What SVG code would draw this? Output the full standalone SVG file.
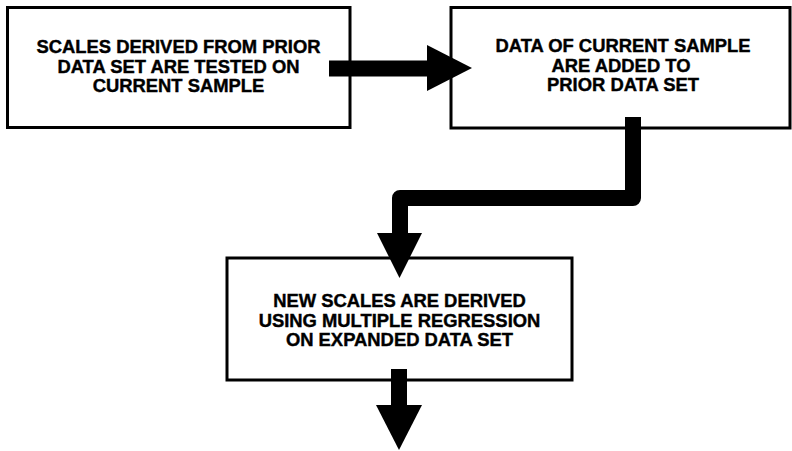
<svg xmlns="http://www.w3.org/2000/svg" width="792" height="451" viewBox="0 0 792 451">
  <style>
    .box { fill: #ffffff; stroke: #000000; stroke-width: 3; }
    .label { font-family: "Liberation Sans", Arial, Helvetica, sans-serif; font-weight: bold; font-size: 18.4px; fill: #000000; stroke: #000000; stroke-width: 0.4; text-anchor: middle; }
    .shaft { fill: none; stroke: #000000; stroke-width: 16; stroke-linejoin: round; stroke-linecap: butt; }
    .head { fill: #000000; stroke: none; }
  </style>
  <rect width="792" height="451" fill="#ffffff"/>

  <g id="node-tested">
    <rect class="box" x="7.5" y="7.5" width="342.5" height="120"/>
    <text class="label" x="178.5" y="53">SCALES DERIVED FROM PRIOR</text>
    <text class="label" x="178.5" y="73">DATA SET ARE TESTED ON</text>
    <text class="label" x="178.5" y="92">CURRENT SAMPLE</text>
  </g>

  <g id="node-added">
    <rect class="box" x="451" y="7.5" width="339" height="120.5"/>
    <text class="label" x="623" y="52">DATA OF CURRENT SAMPLE</text>
    <text class="label" x="621" y="72">ARE ADDED TO</text>
    <text class="label" x="623" y="91">PRIOR DATA SET</text>
  </g>

  <g id="node-derived">
    <rect class="box" x="227" y="258" width="345" height="122"/>
    <text class="label" x="399.5" y="307">NEW SCALES ARE DERIVED</text>
    <text class="label" x="399.5" y="327">USING MULTIPLE REGRESSION</text>
    <text class="label" x="399.5" y="346">ON EXPANDED DATA SET</text>
  </g>

  <g id="connectors">
    <!-- tested -> added -->
    <path class="shaft" d="M329,68.5 H430"/>
    <polygon class="head" points="427,45 472,68 427,91"/>
    <!-- added -> derived -->
    <path class="shaft" d="M633,117 V198 H400 V236"/>
    <polygon class="head" points="377,233 422,233 399.5,278"/>
    <!-- derived -> onward -->
    <path class="shaft" d="M399,369 V408"/>
    <polygon class="head" points="376,405 422,405 399,450"/>
  </g>
</svg>
